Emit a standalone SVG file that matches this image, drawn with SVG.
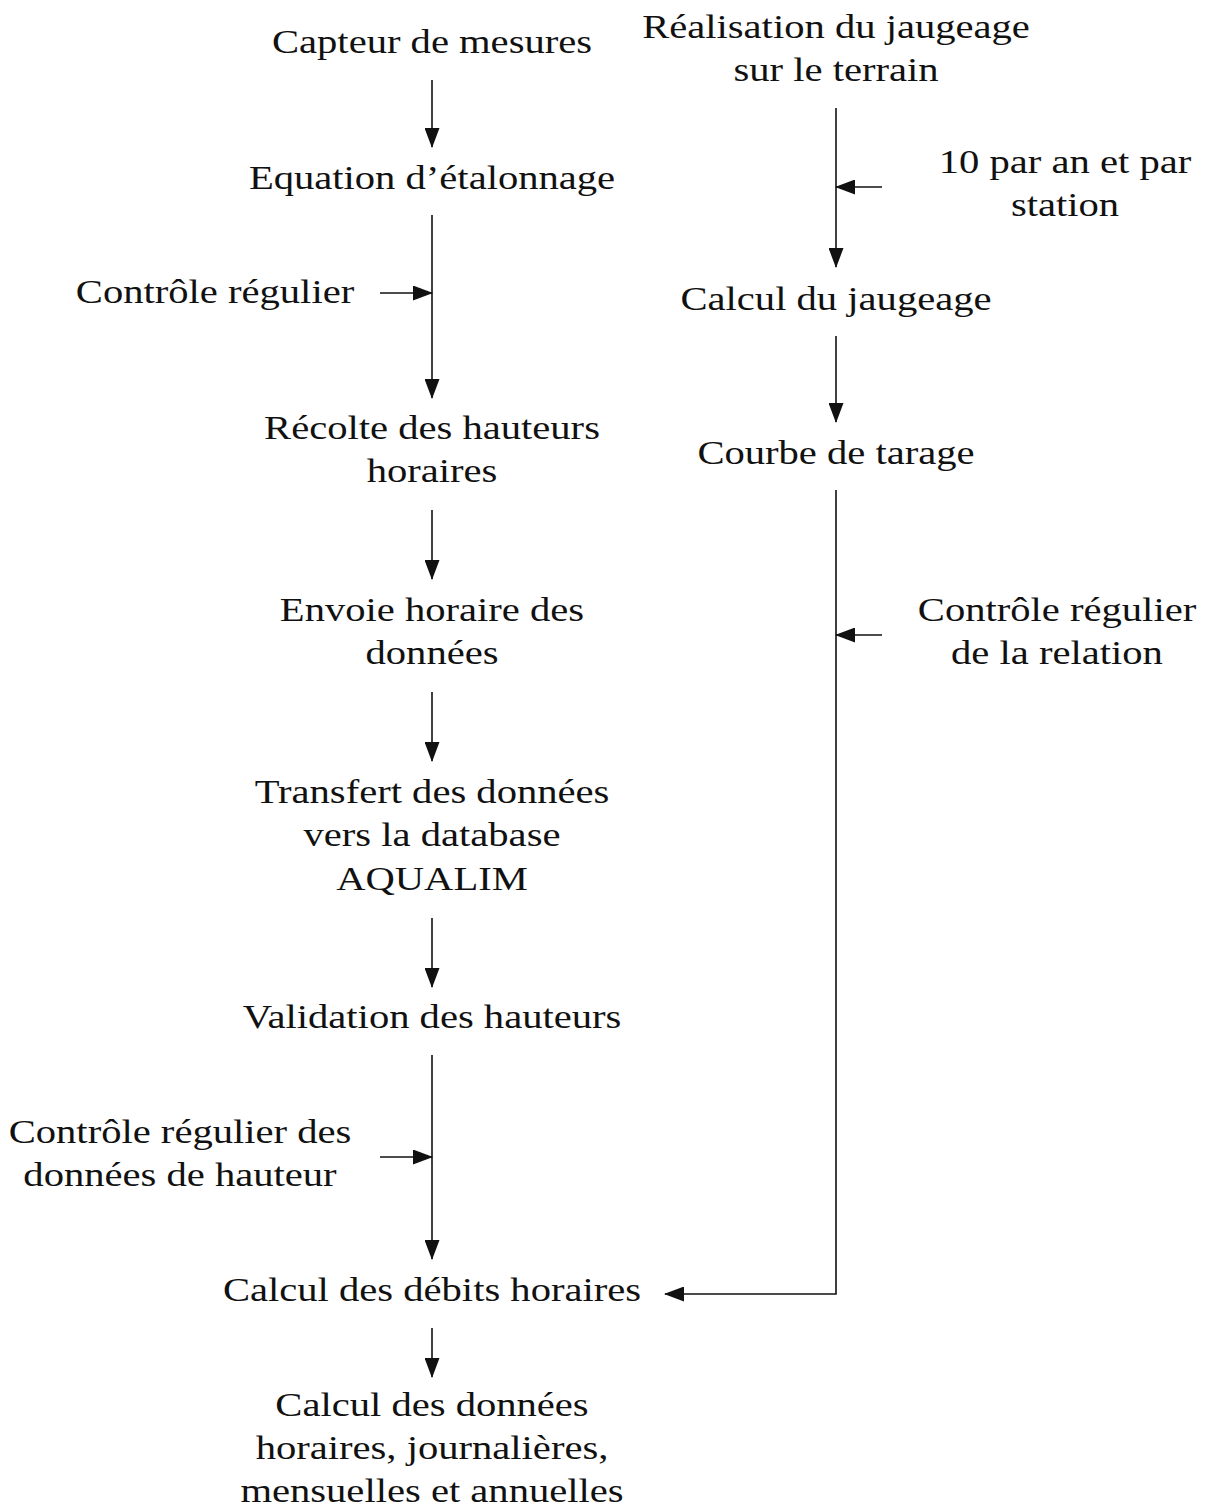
<svg xmlns="http://www.w3.org/2000/svg" width="1207" height="1508" viewBox="0 0 1207 1508">
<style>
text{font-family:"Liberation Serif","DejaVu Serif",serif;font-size:33px;fill:#111;text-anchor:middle}
.c{stroke:#111;stroke-width:1.6;fill:none}
</style>
<defs>
<marker id="ah" viewBox="0 0 20 15" refX="19" refY="7.5" markerWidth="20" markerHeight="15" markerUnits="userSpaceOnUse" orient="auto">
<path d="M0,0 L20,7.5 L0,15 z" fill="#111"/>
</marker>
</defs>
<rect width="1207" height="1508" fill="#fff"/>
<g id="n1"><text transform="translate(432,53) scale(1.23,1)">Capteur de mesures</text></g>
<g id="n2"><text transform="translate(432,189) scale(1.23,1)">Equation d’étalonnage</text></g>
<g id="n3"><text transform="translate(215,303) scale(1.23,1)">Contrôle régulier</text></g>
<g id="n4"><text transform="translate(432,439) scale(1.23,1)">Récolte des hauteurs</text><text transform="translate(432,482) scale(1.23,1)">horaires</text></g>
<g id="n5"><text transform="translate(432,621) scale(1.23,1)">Envoie horaire des</text><text transform="translate(432,664) scale(1.23,1)">données</text></g>
<g id="n6"><text transform="translate(432,803) scale(1.23,1)">Transfert des données</text><text transform="translate(432,846) scale(1.23,1)">vers la database</text><text transform="translate(432,890) scale(1.23,1)">AQUALIM</text></g>
<g id="n7"><text transform="translate(432,1028) scale(1.23,1)">Validation des hauteurs</text></g>
<g id="n8"><text transform="translate(180,1143) scale(1.23,1)">Contrôle régulier des</text><text transform="translate(180,1186) scale(1.23,1)">données de hauteur</text></g>
<g id="n9"><text transform="translate(432,1301) scale(1.23,1)">Calcul des débits horaires</text></g>
<g id="n10"><text transform="translate(432,1416) scale(1.23,1)">Calcul des données</text><text transform="translate(432,1459) scale(1.23,1)">horaires, journalières,</text><text transform="translate(432,1502) scale(1.23,1)">mensuelles et annuelles</text></g>
<g id="n11"><text transform="translate(836,38) scale(1.23,1)">Réalisation du jaugeage</text><text transform="translate(836,81) scale(1.23,1)">sur le terrain</text></g>
<g id="n12"><text transform="translate(1065,173) scale(1.23,1)">10 par an et par</text><text transform="translate(1065,216) scale(1.23,1)">station</text></g>
<g id="n13"><text transform="translate(836,310) scale(1.23,1)">Calcul du jaugeage</text></g>
<g id="n14"><text transform="translate(836,464) scale(1.23,1)">Courbe de tarage</text></g>
<g id="n15"><text transform="translate(1057,621) scale(1.23,1)">Contrôle régulier</text><text transform="translate(1057,664) scale(1.23,1)">de la relation</text></g>
<g id="connectors">
<line class="c" x1="432" y1="80" x2="432" y2="147" marker-end="url(#ah)"/>
<line class="c" x1="432" y1="215" x2="432" y2="398" marker-end="url(#ah)"/>
<line class="c" x1="380" y1="293" x2="432" y2="293" marker-end="url(#ah)"/>
<line class="c" x1="432" y1="510" x2="432" y2="579" marker-end="url(#ah)"/>
<line class="c" x1="432" y1="692" x2="432" y2="761" marker-end="url(#ah)"/>
<line class="c" x1="432" y1="918" x2="432" y2="987" marker-end="url(#ah)"/>
<line class="c" x1="432" y1="1055" x2="432" y2="1259" marker-end="url(#ah)"/>
<line class="c" x1="380" y1="1157" x2="432" y2="1157" marker-end="url(#ah)"/>
<line class="c" x1="432" y1="1328" x2="432" y2="1377" marker-end="url(#ah)"/>
<line class="c" x1="836" y1="108" x2="836" y2="267" marker-end="url(#ah)"/>
<line class="c" x1="882" y1="187" x2="836" y2="187" marker-end="url(#ah)"/>
<line class="c" x1="836" y1="336" x2="836" y2="422" marker-end="url(#ah)"/>
<polyline class="c" points="836,490 836,1294 665,1294" marker-end="url(#ah)"/>
<line class="c" x1="882" y1="635" x2="836" y2="635" marker-end="url(#ah)"/>
</g>
</svg>
